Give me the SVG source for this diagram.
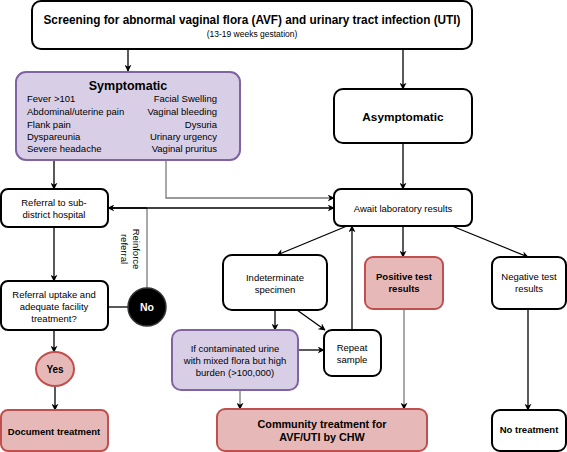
<svg xmlns="http://www.w3.org/2000/svg" width="567" height="452" viewBox="0 0 567 452">
<defs>
<style>
.box{fill:#fff;stroke:#000;stroke-width:2}
.pur{fill:#d8cfe6;stroke:#8064a2;stroke-width:2}
.pink{fill:#e6b9b8;stroke:#c0504d;stroke-width:2}
text{font-family:"Liberation Sans",Arial,sans-serif;font-size:9.5px;fill:#000}
.c{text-anchor:middle}
.r{text-anchor:end}
.b{font-weight:bold}
.ln{fill:none;stroke:#000;stroke-width:1.3}
.gr{fill:none;stroke:#7a7a7a;stroke-width:1.3}
</style>
<marker id="ah" viewBox="0 0 10 10" refX="9" refY="5" markerWidth="7" markerHeight="7" markerUnits="userSpaceOnUse" orient="auto">
<path d="M0,0 L10,5 L0,10 L3,5 z" fill="#000"/>
</marker>
</defs>

<g id="connectors">
<path class="ln" d="M128,49 V71" marker-end="url(#ah)"/>
<path class="ln" d="M403,49 V89" marker-end="url(#ah)"/>
<path class="ln" d="M403,143 V189" marker-end="url(#ah)"/>
<path class="ln" d="M54,160 V189" marker-end="url(#ah)"/>
<path class="gr" d="M166,160 V198 H334" marker-end="url(#ah)"/>
<path class="gr" d="M147,288 V208"/>
<path class="ln" d="M147,208 H108" marker-end="url(#ah)"/>
<path class="ln" d="M108,208 H334" marker-end="url(#ah)"/>
<path class="ln" d="M54,227 V281" marker-end="url(#ah)"/>
<path class="ln" d="M108,307 H128"/>
<path class="ln" d="M54,330 V352" marker-end="url(#ah)"/>
<path class="ln" d="M55,386 V410" marker-end="url(#ah)"/>
<path class="ln" d="M347,226 L277,255" marker-end="url(#ah)"/>
<path class="ln" d="M403,226 V257" marker-end="url(#ah)"/>
<path class="ln" d="M452,226 L528,257" marker-end="url(#ah)"/>
<path class="ln" d="M275,310 V330" marker-end="url(#ah)"/>
<path class="ln" d="M297,310 L325,330" marker-end="url(#ah)"/>
<path class="ln" d="M298,350 H324" marker-end="url(#ah)"/>
<path class="ln" d="M352,330 V226" marker-end="url(#ah)"/>
<path class="gr" d="M240,390 V409" marker-end="url(#ah)"/>
<path class="gr" d="M404,309 V409" marker-end="url(#ah)"/>
<path class="ln" d="M528,309 V410" marker-end="url(#ah)"/>
<g transform="translate(130,249) rotate(90)">
<text class="c" x="0" y="-3">Reinforce</text>
<text class="c" x="0" y="9">referral</text>
</g>
</g>

<g id="screening">
<rect class="box" x="32" y="1" width="440" height="48" rx="9"/>
<text class="c b" x="252" y="24" textLength="417" lengthAdjust="spacingAndGlyphs" style="font-size:12px">Screening for abnormal vaginal flora (AVF) and urinary tract infection (UTI)</text>
<text class="c" x="252" y="37" style="font-size:8.5px">(13-19 weeks gestation)</text>
</g>

<g id="symptomatic">
<rect class="pur" x="16" y="72" width="224" height="88" rx="10"/>
<text class="c b" x="128" y="90" style="font-size:12.5px">Symptomatic</text>
<text x="27" y="102">Fever &gt;101</text>
<text x="27" y="115">Abdominal/uterine pain</text>
<text x="27" y="128">Flank pain</text>
<text x="27" y="140">Dyspareunia</text>
<text x="27" y="152">Severe headache</text>
<text class="r" x="217" y="102">Facial Swelling</text>
<text class="r" x="217" y="115">Vaginal bleeding</text>
<text class="r" x="217" y="128">Dysuria</text>
<text class="r" x="217" y="140">Urinary urgency</text>
<text class="r" x="217" y="152">Vaginal pruritus</text>
</g>

<g id="asymptomatic">
<rect class="box" x="334" y="89" width="138" height="54" rx="9"/>
<text class="c b" x="403" y="121" style="font-size:11.8px">Asymptomatic</text>
</g>

<g id="referral">
<rect class="box" x="1" y="189" width="107" height="38" rx="7"/>
<text class="c" x="54" y="206">Referral to sub-</text>
<text class="c" x="54" y="218">district hospital</text>
</g>

<g id="uptake">
<rect class="box" x="1" y="281" width="107" height="49" rx="7"/>
<text class="c" x="54" y="298">Referral uptake and</text>
<text class="c" x="54" y="310">adequate facility</text>
<text class="c" x="54" y="322">treatment?</text>
</g>

<g id="no">
<circle cx="147" cy="307" r="19" fill="#000" stroke="#333" stroke-width="1.5"/>
<text class="c b" x="147" y="311" style="font-size:10.5px;fill:#fff">No</text>
</g>

<g id="yes">
<ellipse class="pink" cx="55" cy="369" rx="19" ry="17"/>
<text class="c b" x="55" y="373" style="font-size:10px">Yes</text>
</g>

<g id="document">
<rect class="pink" x="1" y="410" width="107" height="41" rx="7"/>
<text class="c b" x="54" y="435">Document treatment</text>
</g>

<g id="await">
<rect class="box" x="334" y="189" width="138" height="37" rx="7"/>
<text class="c" x="403" y="212">Await laboratory results</text>
</g>

<g id="indeterminate">
<rect class="box" x="223" y="255" width="104" height="55" rx="9"/>
<text class="c" x="275" y="281">Indeterminate</text>
<text class="c" x="275" y="293">specimen</text>
</g>

<g id="positive">
<rect class="pink" x="365" y="257" width="78" height="52" rx="8"/>
<text class="c b" x="404" y="280">Positive test</text>
<text class="c b" x="404" y="292">results</text>
</g>

<g id="negative">
<rect class="box" x="492" y="257" width="74" height="52" rx="8"/>
<text class="c" x="529" y="280">Negative test</text>
<text class="c" x="529" y="292">results</text>
</g>

<g id="contaminated">
<rect class="pur" x="172" y="330" width="126" height="60" rx="9"/>
<text class="c" x="235" y="352">If contaminated urine</text>
<text class="c" x="235" y="364">with mixed flora but high</text>
<text class="c" x="235" y="376">burden (&gt;100,000)</text>
</g>

<g id="repeat">
<rect class="box" x="324" y="330" width="57" height="46" rx="8"/>
<text class="c" x="352" y="351">Repeat</text>
<text class="c" x="352" y="363">sample</text>
</g>

<g id="community">
<rect class="pink" x="217" y="409" width="210" height="42" rx="8"/>
<text class="c b" x="322" y="428" style="font-size:10.8px">Community treatment for</text>
<text class="c b" x="322" y="441" style="font-size:10.8px">AVF/UTI by CHW</text>
</g>

<g id="notreatment">
<rect class="box" x="492" y="410" width="74" height="41" rx="8"/>
<text class="c b" x="529" y="433">No treatment</text>
</g>
</svg>
